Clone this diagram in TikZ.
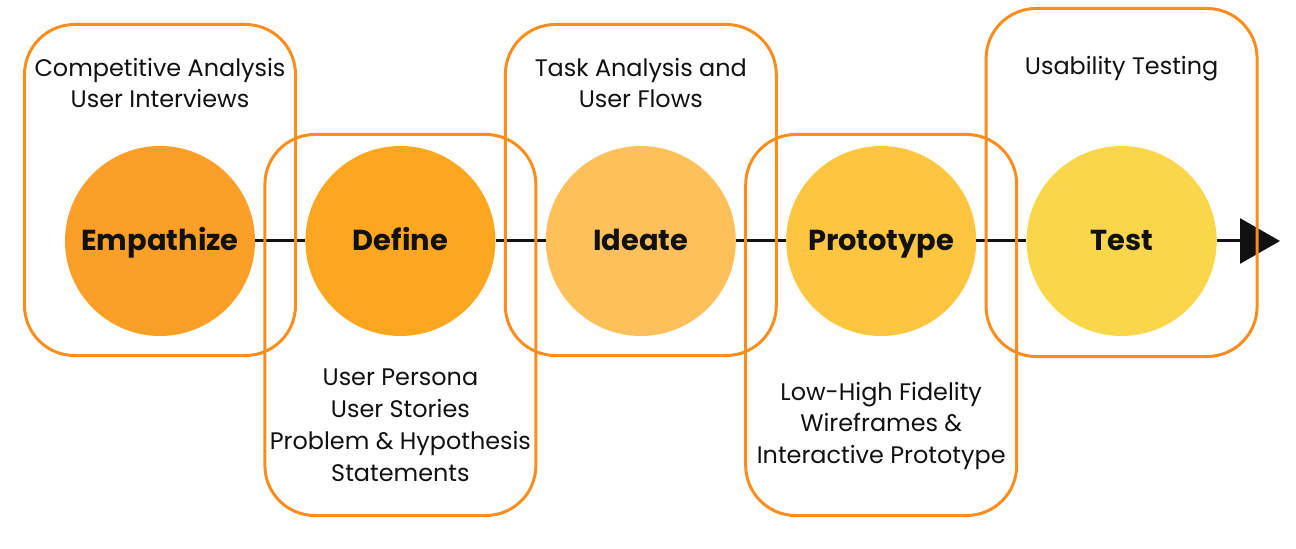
\documentclass[tikz,border=0pt]{standalone}
\usepackage{fontspec}
\setmainfont{Poppins}
\usepackage{tikz}
\usetikzlibrary{positioning}
\usetikzlibrary{calc}
\usetikzlibrary{arrows.meta}

\definecolor{boxorange}{HTML}{F98D1E}
\definecolor{cemp}{HTML}{FB9F28}
\definecolor{cdef}{HTML}{FDA721}
\definecolor{cide}{HTML}{FDC05B}
\definecolor{cpro}{HTML}{FDC540}
\definecolor{ctes}{HTML}{FAD64A}
\definecolor{ink}{HTML}{111111}

\tikzset{
  stage/.style={circle,minimum size=190bp,inner sep=0pt,text=ink,
    text height=20bp,text depth=0pt,
    font=\fontsize{29}{34}\selectfont\bfseries},
  phase/.style={draw=boxorange,line width=3bp,rounded corners=50bp,
    minimum width=271bp,inner sep=0pt},
  note/.style={align=center,text=ink,inner sep=0pt,
    font=\fontsize{24}{32}\selectfont},
  link/.style={draw=ink,line width=3bp}
}

\begin{document}
\begin{tikzpicture}[x=1bp,y=-1bp]
\useasboundingbox (0,0) rectangle (1296,549);
% Draw the stages
\node[stage,fill=cemp](a) at (160,241){Empathize};
\node[stage,fill=cdef,right=50bp of a](b){Define};
\node[stage,fill=cide,right=50bp of b](c){Ideate};
\node[stage,fill=cpro,right=50bp of c](d){Prototype};
\node[stage,fill=ctes,right=50bp of d](e){Test};
\coordinate(z) at (1280,241);

% Draw the links between the stages
\draw[link] (a) -- (b);
\draw[link] (b) -- (c);
\draw[link] (c) -- (d);
\draw[link] (d) -- (e);
\draw[link,-{Triangle[length=40bp,width=45bp]}] (e) -- (z);

% Draw the frames round the stages
\node[phase,minimum height=331bp](p) at ($(a)+(0,-51)$){};
\node[phase,minimum height=381bp](q) at ($(b)+(0,84)$){};
\node[phase,minimum height=331bp](r) at ($(c)+(0,-51)$){};
\node[phase,minimum height=381bp](s) at ($(d)+(0,84)$){};
\node[phase,minimum height=348bp](t) at ($(e)+(0,-58.5)$){};

% Draw the texts of the frames
\node[note](f) at ($(a)+(0,-158)$){Competitive Analysis\\User Interviews};
\node[note](g) at ($(b)+(0,184)$){User Persona\\User Stories\\Problem \& Hypothesis\\Statements};
\node[note](h) at ($(c)+(0,-158)$){Task Analysis and\\User Flows};
\node[note](i) at ($(d)+(0,185)$){Low-High Fidelity\\Wireframes \&\\Interactive Prototype};
\node[note](j) at ($(e)+(0,-172)$){Usability Testing};
\end{tikzpicture}
\end{document}
